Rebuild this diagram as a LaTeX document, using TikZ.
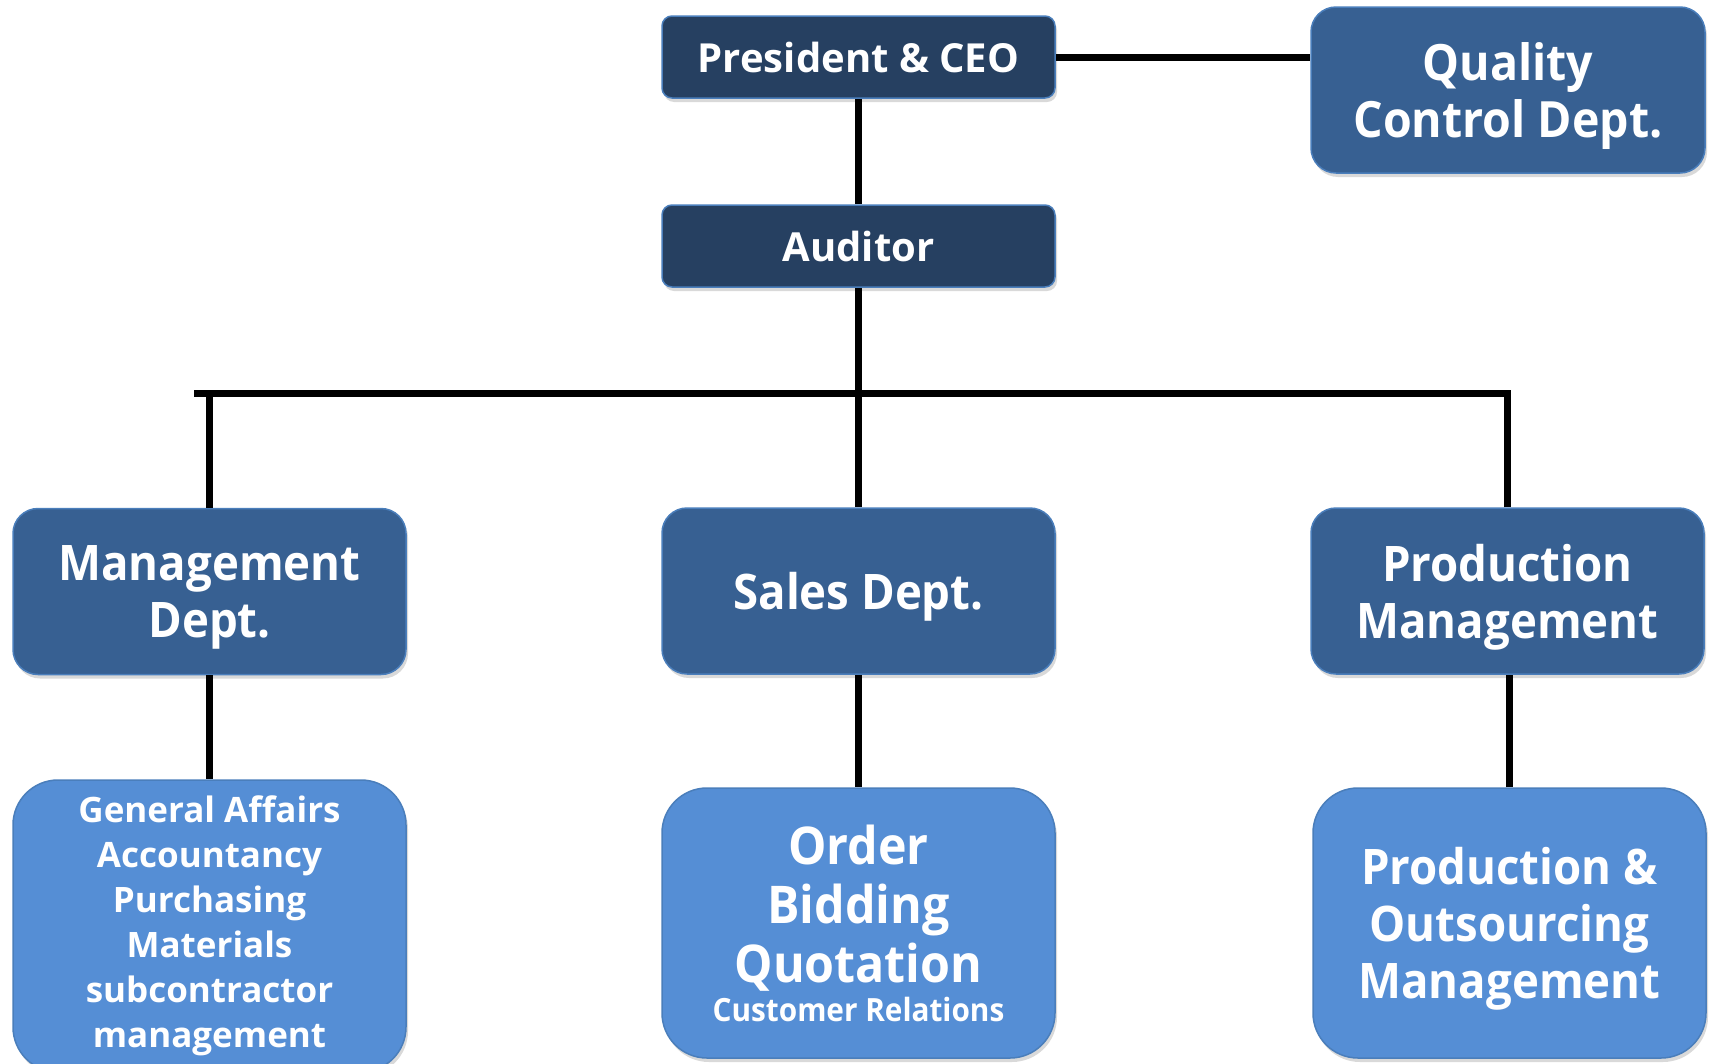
\documentclass[tikz,border=0pt]{standalone}
\usepackage{fontspec}
\setmainfont{Open Sans}
\newfontfamily\narrowsans{Open Sans}[FakeStretch=0.93]
\usetikzlibrary{shadows}
\definecolor{navy}{RGB}{38,64,97}
\definecolor{midblue}{RGB}{55,96,146}
\definecolor{lightblue}{RGB}{85,142,213}
\definecolor{rim}{RGB}{74,126,187}

\begin{document}
\begin{tikzpicture}[x=1pt,y=-1pt,
  box/.style={draw=rim,line width=1.5pt,text=white,align=center,inner sep=0pt,
    drop shadow={shadow xshift=2pt,shadow yshift=-4pt,opacity=.3}},
  topbox/.style={box,fill=navy,rounded corners=10pt,minimum width=393pt,minimum height=82pt,
    font=\bfseries\fontsize{40}{48}\selectfont},
  dept/.style={box,fill=midblue,rounded corners=25pt,minimum width=393pt,minimum height=166pt,
    text depth=0pt,font=\narrowsans\bfseries\fontsize{49}{57}\selectfont},
  unit/.style={box,fill=lightblue,rounded corners=45pt,minimum width=393pt},
  link/.style={line width=7pt}]
\useasboundingbox (0,0) rectangle (1713,1063);
\node[topbox] (ceo) at (858.5,57) {President \& CEO};
\node[topbox] (aud) at (858.5,246) {Auditor};
\node[dept,minimum width=394pt,font=\narrowsans\bfseries\fontsize{50}{57}\selectfont] (qc) at (1508,90) {Quality\\Control Dept.};
\node[dept] (mgmt) at (209.5,591.5) {Management\\Dept.};
\node[dept] (sales) at (858.5,591) {Sales Dept.};
\node[dept] (prod) at (1507.5,591) {Production\\Management};
\node[unit,minimum height=292pt,font=\bfseries\fontsize{35}{45}\selectfont] (ga) at (209.5,926)
  {General Affairs\\Accountancy\\Purchasing\\Materials\\subcontractor\\management};
\node[unit,minimum height=270pt,font=\narrowsans\bfseries\fontsize{52}{59}\selectfont] (order) at (858.5,923)
  {Order\\Bidding\\Quotation\\[-20pt]{\fontsize{32}{43}\selectfont Customer Relations}};
\node[unit,minimum height=270pt,text depth=0pt,font=\narrowsans\bfseries\fontsize{49}{57}\selectfont] (pom) at (1509.5,923)
  {Production \&\\Outsourcing\\Management};
% lines
\coordinate (busL) at (194,393);
\coordinate (busR) at (1511,393);
\draw[link] (ceo.east) -- (ceo.east -| qc.west);
\draw[link] (ceo.south) -- (aud.north);
\draw[link] (aud.south) -- (sales.north);
\draw[link] (busL) -- (busR);
\draw[link] (mgmt.north) -- (mgmt.north |- busL);
\draw[link] (prod.north) -- (prod.north |- busR);
\draw[link] (mgmt.south) -- (ga.north);
\draw[link] (sales.south) -- (order.north);
\draw[link] (pom.north) -- (pom.north |- prod.south);
\end{tikzpicture}
\end{document}
